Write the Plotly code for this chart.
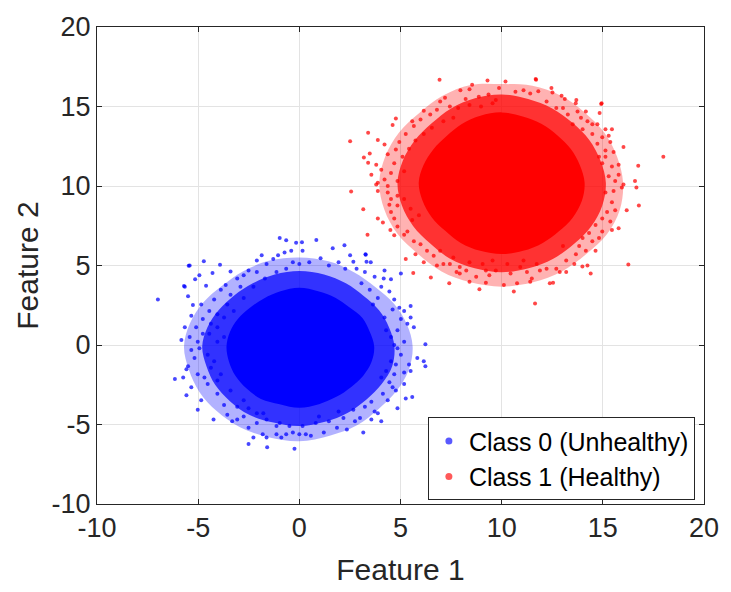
import plotly.graph_objects as go

# ---- Class 0 (Unhealthy): outlines of the saturated core, the dense speckle band, the thinning band, then single points
c0_core_x = [3.7, 3.48, 3.12, 2.47, 1.78, 0.93, 0.0, -0.93, -1.75, -2.44, -3.03, -3.43, -3.6, -3.48, -3.16, -2.62, -1.9, -0.97, 0.0, 0.97, 1.83, 2.55, 3.16, 3.57]
c0_core_y = [-0.1, 0.83, 1.70, 2.37, 2.97, 3.38, 3.6, 3.38, 2.93, 2.34, 1.65, 0.82, -0.1, -1.03, -1.93, -2.72, -3.39, -3.72, -3.95, -3.72, -3.26, -2.65, -1.93, -1.06]
c0_band_x = [4.7, 4.44, 3.94, 3.18, 2.3, 1.22, 0.0, -1.22, -2.3, -3.22, -3.98, -4.54, -4.8, -4.59, -4.16, -3.43, -2.48, -1.28, 0.0, 1.27, 2.4, 3.32, 4.07, 4.59]
c0_band_y = [-0.1, 1.09, 2.18, 3.08, 3.88, 4.44, 4.65, 4.44, 3.88, 3.12, 2.2, 1.12, -0.1, -1.33, -2.5, -3.53, -4.39, -4.88, -5.1, -4.83, -4.26, -3.42, -2.45, -1.33]
c0_thin_x = [5.6, 5.31, 4.68, 3.75, 2.7, 1.44, 0.0, -1.45, -2.75, -3.82, -4.76, -5.41, -5.7, -5.46, -4.94, -4.07, -2.93, -1.53, 0.0, 1.5, 2.85, 3.92, 4.81, 5.41]
c0_thin_y = [-0.1, 1.32, 2.6, 3.65, 4.58, 5.26, 5.5, 5.31, 4.66, 3.72, 2.65, 1.35, -0.1, -1.56, -2.95, -4.17, -5.17, -5.8, -6.05, -5.7, -5.04, -4.02, -2.88, -1.55]
c0_x = [
    -6.99, 6.23, -6.15, -5.83, -5.70, -5.47, 3.28, -0.24,
    -0.97, -0.65, -0.16, 0.13, -5.42, -4.72, -3.92, -5.66, -5.15, -4.94, -4.29, -3.40,
    -3.64, -4.61, -5.50, -5.26, -4.85, -5.34, -5.66, -5.42, -5.10, -4.77, -4.45, -4.21,
    -3.88, -3.07, -2.75, -2.51, -2.10, -1.86, -1.62, -1.29, -1.05, -0.73, -0.40, -0.32,
    -2.10, -2.91, -3.40, -3.56, -4.05, -4.37, -4.45, -4.05, -3.72, -3.24, -2.75, -2.27,
    -1.70, -1.13, -0.65, 0.00, -5.02, -4.77, -3.72, -4.05,
    0.84, 1.65, 2.23, 0.16, 2.51, 3.27, 0.49, 1.05, 1.94, 2.67, 3.32, 3.53, 4.21, 4.53,
    5.02, 4.17, 3.72, 3.24, 2.83, 2.27, 1.46, 4.05, 4.45, 4.69, 4.61, 4.94, 5.18, 5.50,
    5.02, 5.50, 5.34, 5.66, 4.85, 4.53, 5.18, 4.21, 3.88, 3.48, 3.07, 3.64, 4.29, 4.69,
    -5.74, -5.58, -5.02, -4.24, -5.34, -5.02, -5.50, -5.18, -5.34, -5.58, -4.85, -4.53,
    -4.69, -4.37, -4.53, -4.94, -4.05, -3.72, -3.56, -3.32, -3.07, -2.51, -2.27, -2.51,
    -1.81, -1.62, -1.59, -1.13, -0.89, -0.65, 0.00, -2.10, -2.75, -2.10, -1.62,
    -1.13, -0.49, -4.05, -3.40, -3.07, -4.21, -3.88, -2.75, -0.97, -0.32, -1.78, -2.51,
    5.83, 6.15, 6.23, 5.42, 5.18, 5.50, 5.18, 5.58, 5.26, 4.85, 4.77, 4.61, 4.37, 3.88,
    3.72, 4.05, 3.56, 3.16, 2.75, 3.00, 2.35, 1.86, 1.21, 0.57, 0.32, 1.46, 2.18, 2.67,
    3.24, 3.56, 4.13, 4.45, 4.69, 4.77, 5.02, 4.53, 4.85, 0.81, 0.16, 0.97, 1.94, 4.05, 4.29,
]
c0_y = [
    2.86, 0.04, -2.14, 0.31, 3.71, 4.98, 5.67, -6.53,
    6.73, 6.59, 6.43, 6.47, 5.00, 5.27, 5.04, 3.67, 4.14, 4.39, 4.53, 4.63,
    3.78, 3.73, 3.06, 2.51, 2.55, 1.84, 1.12, 0.51, 1.12, 1.63, 2.14, 2.86,
    3.47, 4.18, 4.39, 4.69, 5.31, 5.65, 5.10, 5.41, 5.65, 5.82, 5.92, 5.20,
    4.59, 3.67, 3.16, 2.55, 1.94, 1.33, 0.71, 1.12, 1.73, 2.14, 2.96, 3.67,
    4.18, 4.59, 4.80, 5.10, 0.20, 0.71, 0.51, 0.20,
    6.60, 6.08, 6.27, 5.92, 5.65, 5.71, 5.20, 5.45, 5.20, 5.24, 5.24, 5.20, 4.69, 4.14,
    4.49, 4.18, 4.29, 4.59, 4.80, 4.80, 5.00, 3.67, 3.37, 2.86, 2.24, 2.35, 2.14, 2.45,
    1.63, 1.73, 1.33, 1.12, 0.92, 0.51, 0.20, 1.73, 2.96, 3.47, 3.88, 2.55, 0.92, 0.00,
    -2.04, -3.16, -4.08, -4.69, -2.65, -1.84, -1.33, -0.82, -0.31, -1.53, -3.47, -2.45,
    -2.04, -1.43, -0.61, -0.20, -3.06, -3.78, -4.39, -4.80, -4.69, -5.20, -5.82, -6.22,
    -5.61, -5.82, -6.43, -5.61, -5.82, -5.61, -5.61, -4.90, -4.49, -4.29, -4.69,
    -5.10, -5.10, -2.24, -2.86, -3.88, -1.02, -1.84, -3.47, -4.90, -5.51, -4.29, -3.98,
    -0.82, -1.02, -1.33, -1.22, -1.73, -1.63, -2.45, -3.27, -3.37, -3.98, -2.86, -2.65, -3.47, -4.29,
    -4.18, -4.80, -4.69, -5.51, -4.80, -4.59, -5.31, -5.20, -5.51, -5.71, -5.61, -4.80, -4.59, -4.08,
    -3.88, -3.57, -3.06, -2.35, -1.84, -1.22, -0.61, -1.02, -0.20, -4.90, -5.10, -4.49, -4.18, -2.04, -1.63,
]

# ---- Class 1 (Healthy)
c1_core_x = [14.1, 13.86, 13.42, 12.76, 11.98, 11.04, 10.0, 8.95, 8.03, 7.28, 6.62, 6.14, 5.9, 6.09, 6.54, 7.21, 7.98, 8.94, 10.0, 11.06, 12.03, 12.83, 13.51, 13.96]
c1_core_y = [10.2, 11.32, 12.33, 13.18, 13.9, 14.37, 14.63, 14.42, 13.9, 13.14, 12.3, 11.32, 10.2, 9.07, 8.04, 7.18, 6.42, 5.92, 5.72, 5.92, 6.42, 7.15, 8.01, 9.05]
c1_band_x = [15.15, 14.88, 14.33, 13.5, 12.5, 11.31, 10.0, 8.68, 7.5, 6.54, 5.71, 5.12, 4.85, 5.07, 5.63, 6.47, 7.45, 8.67, 10.0, 11.33, 12.55, 13.57, 14.42, 14.97]
c1_band_y = [10.2, 11.61, 12.9, 13.98, 14.88, 15.47, 15.76, 15.52, 14.88, 13.94, 12.87, 11.61, 10.2, 8.77, 7.47, 6.38, 5.43, 4.83, 4.58, 4.83, 5.43, 6.35, 7.45, 8.76]
c1_thin_x = [16.0, 15.7, 15.07, 14.1, 12.93, 11.52, 10.0, 8.47, 7.08, 5.93, 4.93, 4.25, 3.95, 4.2, 4.85, 5.86, 7.03, 8.45, 10.0, 11.55, 12.98, 14.17, 15.2, 15.84]
c1_thin_y = [10.2, 11.85, 13.36, 14.63, 15.67, 16.3, 16.41, 16.35, 15.67, 14.59, 13.36, 11.87, 10.2, 8.52, 6.99, 5.73, 4.63, 3.94, 3.67, 3.94, 4.63, 5.7, 6.96, 8.51]
c1_x = [
    6.93, 8.54, 9.30, 7.96, 8.41, 8.87, 9.35, 9.87, 8.22, 7.20, 6.96, 6.15, 4.77, 4.61,
    2.51, 3.40, 3.88, 4.21, 3.19, 3.48, 3.40, 3.56, 3.80, 4.37, 4.77, 4.94, 5.26, 5.66,
    5.58, 5.99, 6.47, 6.80, 7.44, 7.85, 8.41, 8.98, 9.55, 9.71, 4.05, 4.21, 3.88, 4.53,
    4.69, 5.10, 5.42, 5.74, 6.15, 6.55, 7.12, 7.61, 3.80, 4.37, 4.85, 5.18, 2.56, 11.68, 14.92,
    10.19, 11.70, 12.46, 12.51, 10.68, 11.08, 11.41, 11.81, 12.96, 13.12, 13.69, 13.66,
    14.94, 14.84, 14.16, 13.92, 14.24, 14.73, 15.13, 15.45, 15.29, 14.97, 16.02, 15.53,
    15.37, 15.13, 15.45, 15.78, 16.75, 17.99, 15.29, 15.78, 15.61, 16.02, 16.59, 14.81,
    14.73, 14.48, 14.00, 13.51, 13.27, 12.70, 12.22, 13.03, 13.75, 14.48, 14.97, 15.13,
    3.88, 3.16, 3.37, 3.88, 4.45, 4.53, 4.69, 4.13, 4.85, 4.69, 4.50, 5.18, 5.66, 5.34,
    5.26, 5.74, 6.15, 5.63, 6.50, 6.80, 7.41, 7.12, 7.77, 7.93, 8.41, 8.90, 8.74, 9.22,
    9.39, 9.71, 9.22, 8.25, 7.44, 6.31, 5.99, 5.58, 5.91, 5.50, 5.18, 4.85, 4.53, 4.85,
    4.37, 6.64, 6.96, 7.61, 8.41, 9.06, 9.55, 7.93,
    16.78, 16.18, 16.26, 11.65, 10.60, 10.11, 10.76, 11.41, 11.49, 12.38, 12.54, 14.40,
    13.99, 14.24, 13.59, 13.19, 12.87, 12.70, 12.22, 11.89, 11.25, 10.92, 10.44, 10.28,
    14.64, 14.16, 13.67, 13.83, 14.48, 14.81, 14.97, 15.45, 15.78, 15.37, 15.61, 15.21,
    14.97, 14.64, 15.45, 15.13, 15.53, 15.94, 16.66, 14.32, 14.00, 13.19, 11.73, 11.08, 13.03,
]
c1_y = [
    16.69, 16.37, 16.63, 16.02, 16.08, 15.61, 15.76, 16.16, 15.47, 15.55, 15.31, 14.73, 14.24, 13.84,
    12.82, 13.35, 12.90, 12.61, 11.80, 12.04, 11.47, 10.71, 11.33, 12.00, 12.29, 12.76, 13.27, 13.78,
    14.08, 14.18, 14.49, 14.80, 15.00, 14.90, 15.10, 15.00, 15.20, 15.41, 11.02, 10.41, 10.20, 10.82,
    11.43, 11.84, 12.35, 12.86, 13.27, 13.67, 14.08, 14.29, 10.10, 10.00, 10.31, 10.92, 9.65, 16.73, 15.16,
    16.57, 16.69, 16.16, 15.88, 15.92, 16.02, 15.82, 15.96, 15.67, 15.47, 15.41, 15.20,
    15.20, 14.59, 14.69, 14.29, 14.08, 13.88, 13.57, 13.57, 13.16, 13.06, 12.45, 12.14,
    12.76, 12.24, 11.22, 11.33, 11.27, 11.84, 10.61, 10.71, 10.31, 10.10, 10.31, 11.84,
    12.65, 13.27, 13.57, 13.88, 14.49, 14.90, 15.31, 14.90, 14.69, 13.88, 11.43, 11.84,
    9.69, 8.53, 6.94, 7.96, 8.82, 8.37, 7.96, 7.71, 7.45, 6.90, 7.24, 6.94, 6.53, 7.14,
    5.41, 5.71, 5.20, 4.53, 4.24, 5.00, 3.88, 5.10, 4.59, 4.90, 3.98, 3.51, 4.29, 3.92,
    4.39, 4.69, 4.69, 4.69, 5.10, 5.92, 6.33, 7.86, 8.16, 8.57, 9.18, 9.39, 9.18, 8.78,
    9.59, 5.61, 5.92, 5.51, 5.20, 5.10, 5.31, 4.49,
    8.78, 8.47, 5.06, 2.61, 3.37, 3.78, 3.88, 3.98, 4.18, 3.88, 3.92, 4.49,
    4.94, 5.00, 5.10, 4.59, 4.59, 4.80, 4.80, 4.69, 4.59, 4.90, 4.49, 5.10,
    5.92, 5.92, 5.71, 6.22, 6.53, 6.73, 7.14, 7.24, 7.35, 7.76, 8.47, 8.37,
    7.96, 7.55, 8.98, 9.59, 9.69, 9.90, 9.90, 7.04, 6.73, 5.31, 5.10, 5.31, 6.22,
]

x_ticks = [-10, -5, 0, 5, 10, 15, 20]
y_ticks = [-10, -5, 0, 5, 10, 15, 20]
class_names = ["Class 0 (Unhealthy)", "Class 1 (Healthy)"]

INK = "#262626"
FONT = "Liberation Sans, Arial, sans-serif"


def region(xs, ys, rgba, group):
    """Closed, spline-smoothed filled outline in data coordinates (no legend entry)."""
    return go.Scatter(
        x=xs + xs[:1], y=ys + ys[:1], mode="lines", fill="toself",
        fillcolor=rgba, line=dict(width=0, color=rgba, shape="spline", smoothing=1.0),
        hoverinfo="skip", showlegend=False, legendgroup=group,
    )


def cloud(xs, ys, rgb, group):
    return go.Scatter(
        x=xs, y=ys, mode="markers", legendgroup=group, showlegend=False,
        marker=dict(size=4, color=f"rgba({rgb},0.72)", line=dict(width=0)),
        hoverinfo="x+y",
    )


def legend_key(name, rgb, group):
    # legend-only entry carrying a slightly larger dot
    return go.Scatter(
        x=[None], y=[None], mode="markers", name=name, legendgroup=group,
        marker=dict(size=7, color=f"rgba({rgb},0.65)", line=dict(width=0)),
    )


fig = go.Figure()
for (thin_x, thin_y, band_x, band_y, core_x, core_y, px, py, rgb, grp) in [
    (c0_thin_x, c0_thin_y, c0_band_x, c0_band_y, c0_core_x, c0_core_y, c0_x, c0_y, "0,0,255", "c0"),
    (c1_thin_x, c1_thin_y, c1_band_x, c1_band_y, c1_core_x, c1_core_y, c1_x, c1_y, "255,0,0", "c1"),
]:
    fig.add_trace(region(thin_x, thin_y, f"rgba({rgb},0.3)", grp))
    fig.add_trace(region(band_x, band_y, f"rgba({rgb},0.72)", grp))
    fig.add_trace(region(core_x, core_y, f"rgb({rgb})", grp))
    fig.add_trace(cloud(px, py, rgb, grp))

fig.add_trace(legend_key(class_names[0], "0,0,255", "c0"))
fig.add_trace(legend_key(class_names[1], "255,0,0", "c1"))

axis_common = dict(
    showgrid=True, gridcolor="#e3e3e3", gridwidth=1, zeroline=False,
    showline=True, linecolor=INK, linewidth=1, mirror="ticks",
    ticks="inside", ticklen=5, tickcolor=INK,
    tickfont=dict(family=FONT, size=27, color=INK),
)

fig.update_layout(
    width=731, height=592,
    margin=dict(l=97, r=18, t=17, b=85),
    paper_bgcolor="white", plot_bgcolor="white",
    font=dict(family=FONT, color=INK),
    xaxis=dict(range=[-10, 20], tickvals=x_ticks, ticktext=[str(v) for v in x_ticks],
               title=dict(text="Feature 1", font=dict(family=FONT, size=30, color=INK), standoff=16),
               **axis_common),
    yaxis=dict(range=[-10, 20], tickvals=y_ticks, ticktext=[str(v) for v in y_ticks],
               title=dict(text="Feature 2", font=dict(family=FONT, size=30, color=INK), standoff=4),
               **axis_common),
    legend=dict(
        x=0.985, y=0.008, xanchor="right", yanchor="bottom",
        bgcolor="white", bordercolor=INK, borderwidth=1,
        font=dict(family=FONT, size=25, color="black"),
        tracegroupgap=0,
    ),
    showlegend=True,
)

fig.write_html("out.html")
